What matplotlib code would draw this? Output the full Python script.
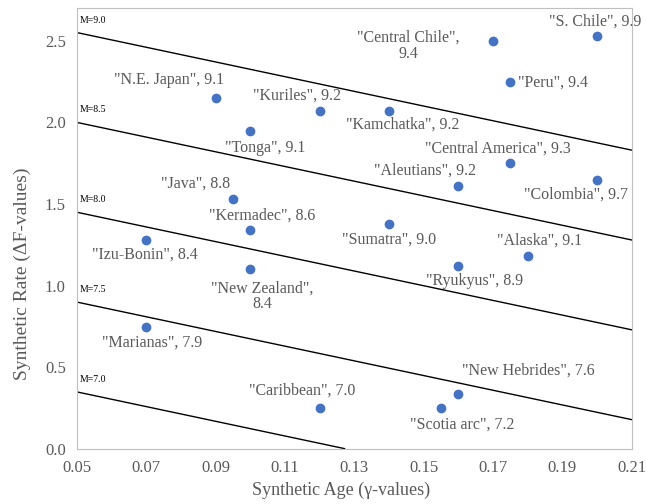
import numpy as np
import matplotlib.pyplot as plt

plt.rcParams['font.family'] = ['Liberation Serif', 'DejaVu Serif']

# Subduction zones: synthetic age, synthetic rate, label text
names = ['"N.E. Japan", 9.1', '"Kuriles", 9.2', '"Tonga", 9.1', '"Kamchatka", 9.2',
         '"Central Chile",\n9.4', '"S. Chile", 9.9', '"Peru", 9.4', '"Central America", 9.3',
         '"Aleutians", 9.2', '"Colombia", 9.7', '"Java", 8.8', '"Kermadec", 8.6',
         '"Izu-Bonin", 8.4', '"Sumatra", 9.0', '"Alaska", 9.1', '"Ryukyus", 8.9',
         '"New Zealand",\n8.4', '"Marianas", 7.9', '"Caribbean", 7.0', '"Scotia arc", 7.2',
         '"New Hebrides", 7.6']
age = [0.09, 0.12, 0.10, 0.14, 0.17, 0.20, 0.175, 0.175, 0.16, 0.20, 0.095, 0.10,
       0.07, 0.14, 0.18, 0.16, 0.10, 0.07, 0.12, 0.155, 0.16]
rate = [2.15, 2.07, 1.95, 2.07, 2.50, 2.53, 2.25, 1.75, 1.61, 1.65, 1.53, 1.34,
        1.28, 1.38, 1.18, 1.12, 1.10, 0.75, 0.25, 0.25, 0.34]
# label offsets in pixels (dx, dy)
offsets = [(-47, 18), (-23, 15), (15, -17), (14, -14), (-85, -5), (-2, 14), (43, -1),
           (-13, 15), (-33, 15), (-21, -15), (-37, 16), (12, 15), (-1, -15), (0, -16),
           (12, 16), (16, -15), (12, -27), (6, -16), (-17, 18), (21, -16), (70, 23)]

# Magnitude lines: rate at age 0.05, common slope
mags = ['M=9.0', 'M=8.5', 'M=8.0', 'M=7.5', 'M=7.0']
intercepts = [2.55, 2.0, 1.45, 0.9, 0.35]
slope = -4.5

gray = '#595959'
fig = plt.figure(figsize=(6.46, 5.04), dpi=100)
ax = fig.add_axes([0.119, 0.109, 0.859, 0.875])

xs = np.linspace(0.05, 0.21, 200)
for m, c in zip(mags, intercepts):
    ys = c + slope * (xs - 0.05)
    keep = ys >= 0
    ax.plot(xs[keep], ys[keep], color='black', lw=1)
    ax.annotate(m, (0.05, c), xytext=(3, 8), textcoords='offset pixels',
                fontsize=7, color='black', ha='left', va='bottom')

ax.scatter(age, rate, s=36, color='#4472C4', zorder=3)
for n, x, y, (dx, dy) in zip(names, age, rate, offsets):
    ax.annotate(n, (x, y), xytext=(dx, dy), textcoords='offset pixels',
                fontsize=11.5, color=gray, ha='center', va='center',
                multialignment='center', linespacing=1.0)

ax.set_xlim(0.05, 0.21)
ax.set_ylim(0, 2.7)
ax.set_xticks(np.arange(0.05, 0.2101, 0.02))
ax.set_xticklabels(['%.2f' % t for t in np.arange(0.05, 0.2101, 0.02)])
ax.set_yticks(np.arange(0, 2.51, 0.5))
ax.set_yticklabels(['%.1f' % t for t in np.arange(0, 2.51, 0.5)])
ax.tick_params(length=0, labelsize=12, labelcolor=gray, pad=8)
for s in ax.spines.values():
    s.set_color('#bfbfbf')

ax.set_xlabel('Synthetic Age (γ-values)', fontsize=13, color=gray)
ax.xaxis.set_label_coords(0.476, -0.075)
ax.xaxis.label.set_va('top')
ax.set_ylabel('Synthetic Rate (ΔF-values)', fontsize=14, color=gray)
ax.yaxis.set_label_coords(-0.083, 0.397)

fig.savefig('out.png', dpi=100)
